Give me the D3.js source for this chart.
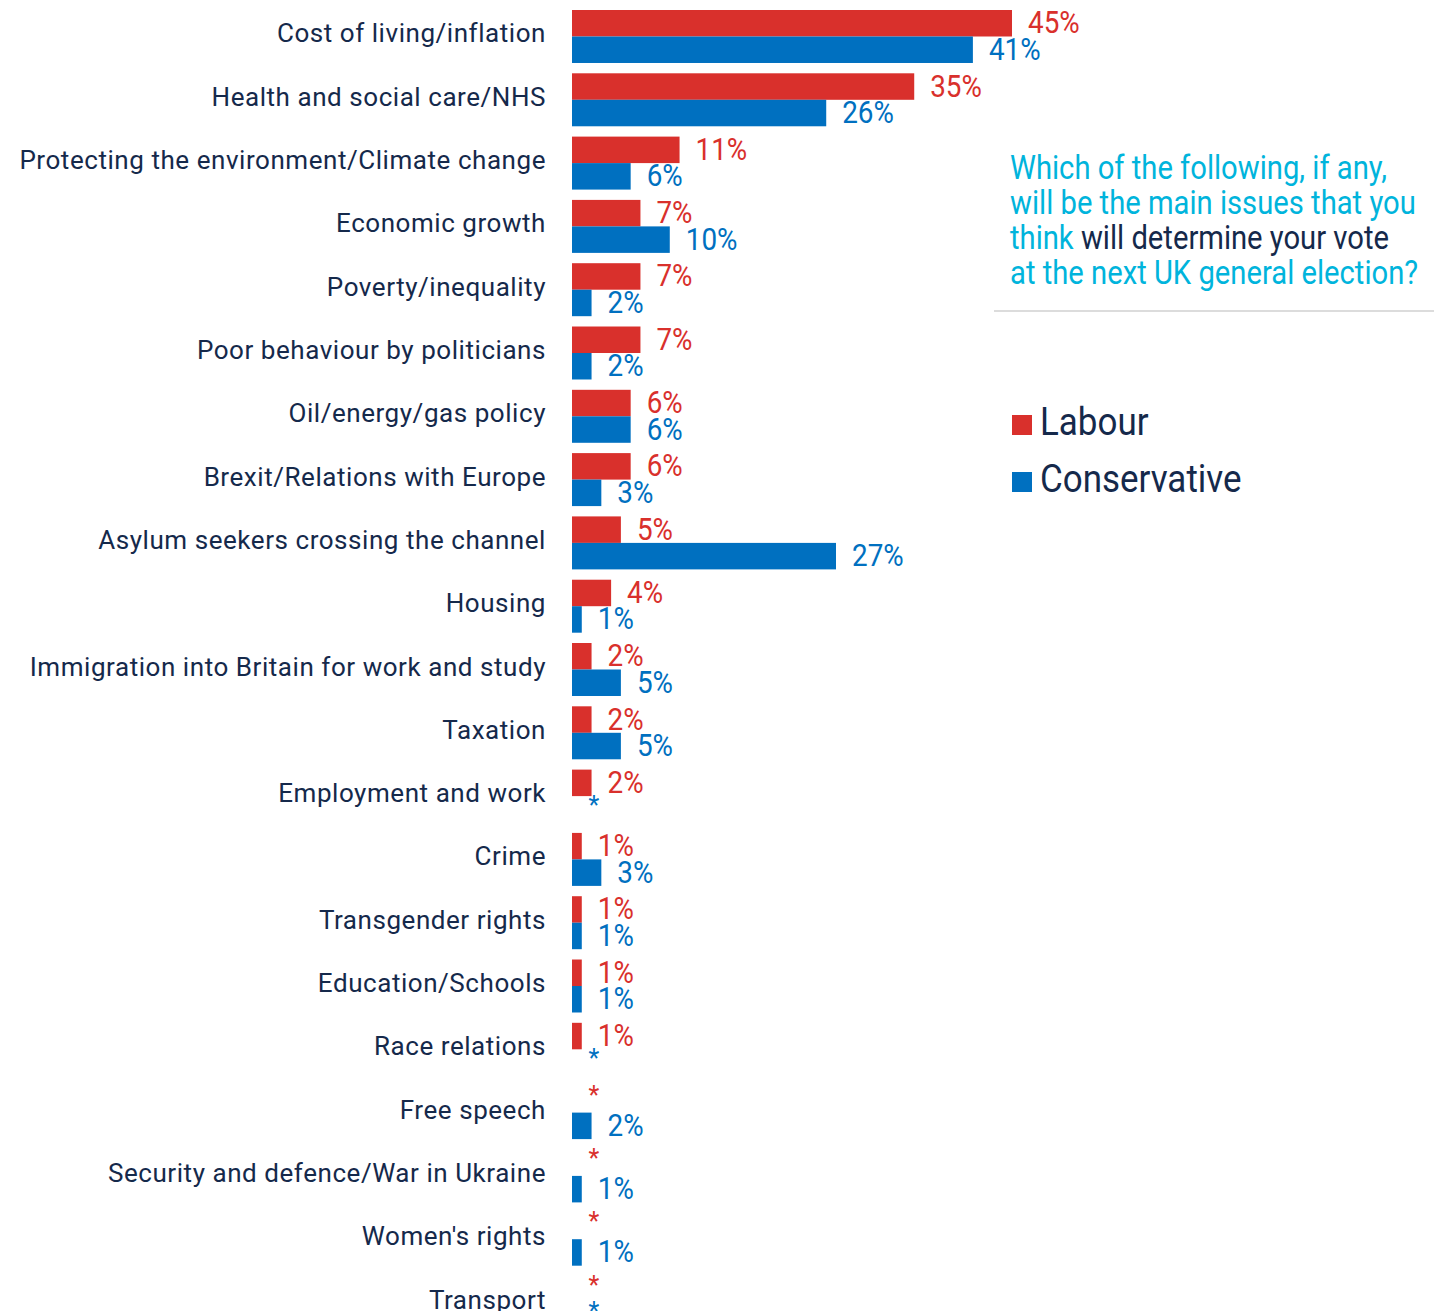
<!DOCTYPE html>
<html>
<head>
<meta charset="utf-8">
<script src="https://cdn.jsdelivr.net/npm/d3@7"></script>
<style>
  html, body { margin: 0; padding: 0; background: #ffffff; }
  svg { display: block; }
  text { font-family: Roboto, "Liberation Sans", sans-serif; }
</style>
</head>
<body>
<svg id="chart" width="1448" height="1311"></svg>
<script>
// Issues named as deciding the vote, by party supported
const categories = [
  "Cost of living/inflation",
  "Health and social care/NHS",
  "Protecting the environment/Climate change",
  "Economic growth",
  "Poverty/inequality",
  "Poor behaviour by politicians",
  "Oil/energy/gas policy",
  "Brexit/Relations with Europe",
  "Asylum seekers crossing the channel",
  "Housing",
  "Immigration into Britain for work and study",
  "Taxation",
  "Employment and work",
  "Crime",
  "Transgender rights",
  "Education/Schools",
  "Race relations",
  "Free speech",
  "Security and defence/War in Ukraine",
  "Women's rights",
  "Transport"
];
// 0 marks a share below 0.5%, labelled with an asterisk
const labour       = [45, 35, 11, 7, 7, 7, 6, 6, 5, 4, 2, 2, 2, 1, 1, 1, 1, 0, 0, 0, 0];
const conservative = [41, 26, 6, 10, 2, 2, 6, 3, 27, 1, 5, 5, 0, 3, 1, 1, 0, 2, 1, 1, 0];
const seriesNames  = ["Labour", "Conservative"];
const titleLines = [
  [{t: "Which of the following, if any,", hl: true}],
  [{t: "will be the main issues that you", hl: true}],
  [{t: "think ", hl: true}, {t: "will determine your vote", hl: false}],
  [{t: "at the next UK general election?", hl: true}]
];

const colors = {Labour: "#d9302c", Conservative: "#0070c0"};
const navy = "#15294b";
const cyan = "#00b4dc";

const svg = d3.select("#chart");

const rows = categories.map((c, i) => ({
  category: c,
  values: [
    {series: "Labour", value: labour[i]},
    {series: "Conservative", value: conservative[i]}
  ]
}));

const x = d3.scaleLinear().domain([0, 45]).range([572, 1012]);
const y = d3.scaleBand().domain(categories).range([10, 1329]).paddingInner(0.163).paddingOuter(0);
const ySub = d3.scaleBand().domain(seriesNames).range([0, y.bandwidth()]);

// text drawn in a narrowed face
function narrowText(parent, px, py, str, opts) {
  const g = parent.append("g").attr("transform", `translate(${px},${py})`);
  const t = g.append("text")
    .attr("transform", `scale(${opts.sx},1)`)
    .attr("text-anchor", opts.anchor || "start")
    .attr("font-size", opts.size)
    .attr("letter-spacing", opts.ls || 0)
    .attr("fill", opts.fill)
    .text(str);
  return t;
}

const groups = svg.append("g").selectAll("g.row")
  .data(rows).join("g")
  .attr("class", "row")
  .attr("transform", d => `translate(0,${y(d.category)})`);

// bars
groups.selectAll("rect")
  .data(d => d.values).join("rect")
  .attr("x", x(0))
  .attr("y", d => ySub(d.series))
  .attr("width", d => x(d.value) - x(0))
  .attr("height", ySub.bandwidth())
  .attr("fill", d => colors[d.series]);

// value labels
groups.each(function(d) {
  const g = d3.select(this);
  d.values.forEach(v => {
    if (v.value > 0) {
      narrowText(g, x(v.value) + 16, ySub(v.series) + ySub.bandwidth() / 2 + 10,
        v.value + "%", {sx: 0.87, size: 32, fill: colors[v.series]});
    } else {
      narrowText(g, x(v.value) + 16.5, ySub(v.series) + 17.5,
        "*", {sx: 1, size: 25, fill: colors[v.series]});
    }
  });
  // category label
  narrowText(g, 546, y.bandwidth() / 2 + 6, d.category,
    {sx: 1, size: 26, fill: navy, anchor: "end", ls: 0.55});
});

// question text
titleLines.forEach((line, i) => {
  const g = svg.append("g").attr("transform", `translate(1010,${179 + i * 35})`);
  const t = g.append("text")
    .attr("transform", "scale(0.885,1)")
    .attr("font-size", 33);
  line.forEach(seg => {
    t.append("tspan").attr("fill", seg.hl ? cyan : navy).text(seg.t);
  });
});

// separator
svg.append("line")
  .attr("x1", 994).attr("x2", 1434)
  .attr("y1", 311).attr("y2", 311)
  .attr("stroke", "#dcdcdc").attr("stroke-width", 2);

// legend
const legend = svg.append("g").selectAll("g")
  .data(seriesNames).join("g")
  .attr("transform", (d, i) => `translate(1012,${435 + i * 57})`);
legend.append("rect")
  .attr("x", 0).attr("y", -20)
  .attr("width", 20).attr("height", 20)
  .attr("fill", d => colors[d]);
legend.each(function(d) {
  narrowText(d3.select(this), 28, 0, d, {sx: 0.92, size: 38, fill: navy});
});
</script>
</body>
</html>
